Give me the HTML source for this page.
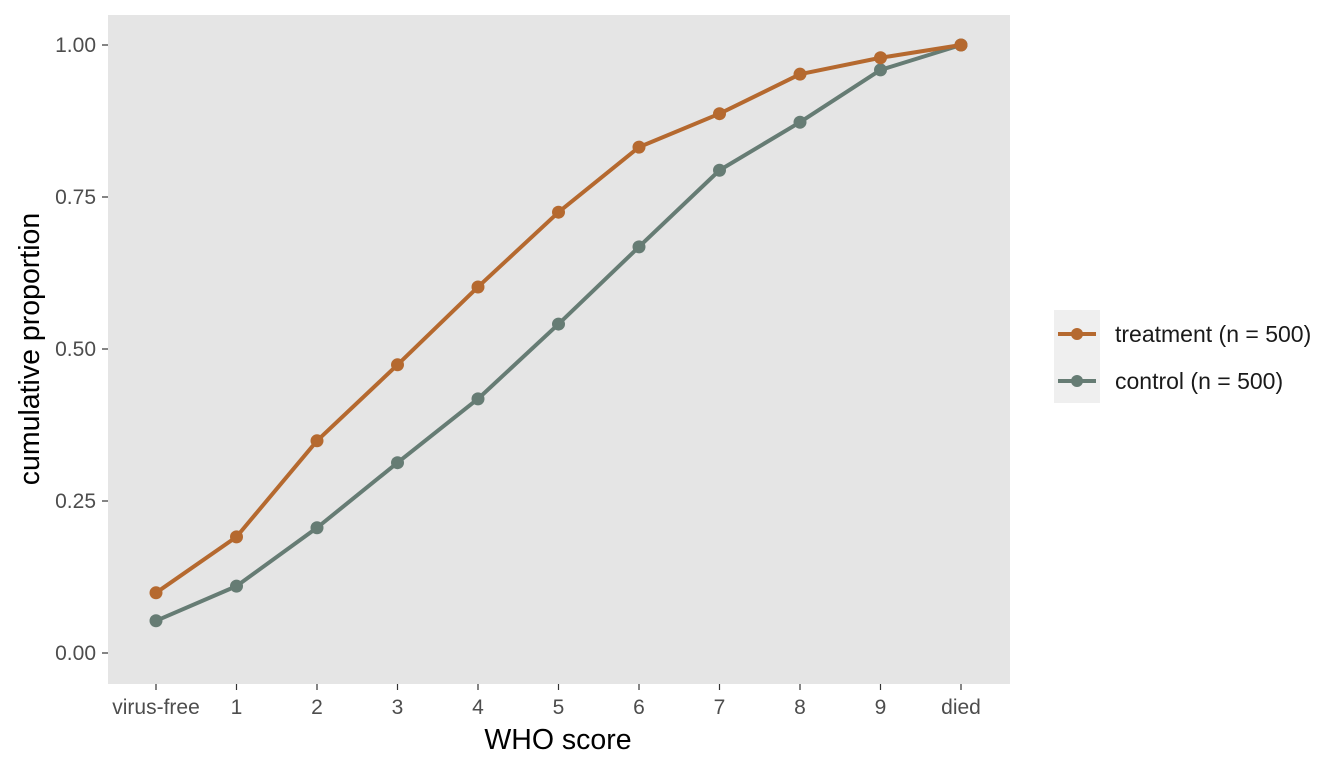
<!DOCTYPE html>
<html><head><meta charset="utf-8"><style>
body{margin:0;background:#fff;font-family:"Liberation Sans",Arial,sans-serif;}
svg text{font-family:"Liberation Sans",Arial,sans-serif;}
</style></head><body>
<svg id="chart" width="1344" height="768">
<rect x="108" y="15" width="902" height="669" fill="#e5e5e5"/>
<g id="axes"></g>
<g id="series"></g>
<text x="558" y="749" font-size="28.5" text-anchor="middle" fill="#000">WHO score</text>
<text transform="translate(39,349) rotate(-90)" font-size="28.5" text-anchor="middle" fill="#000">cumulative proportion</text>
<g>
<rect x="1054" y="310" width="46" height="93" fill="#efefef"/>
<g>
<line x1="1058" y1="334" x2="1096" y2="334" stroke="#b5692f" stroke-width="4"/>
<circle cx="1077" cy="334" r="6" fill="#b5692f"/>
<text x="1115" y="342" font-size="23" fill="#1a1a1a">treatment (n = 500)</text></g>
<g>
<line x1="1058" y1="381" x2="1096" y2="381" stroke="#667c74" stroke-width="4"/>
<circle cx="1077" cy="381" r="6" fill="#667c74"/>
<text x="1115" y="389" font-size="23" fill="#1a1a1a">control (n = 500)</text></g>
</g>
</svg>
<script>
const categories=["virus-free","1","2","3","4","5","6","7","8","9","died"];
const treatment=[0.099,0.191,0.349,0.474,0.602,0.725,0.832,0.887,0.952,0.979,1.0];
const control=[0.053,0.110,0.206,0.313,0.418,0.541,0.668,0.794,0.873,0.959,1.0];
const yTicks=[0,0.25,0.5,0.75,1.0];
const yTickLabels=["0.00","0.25","0.50","0.75","1.00"];
const NS="http://www.w3.org/2000/svg";
const xs=i=>156+i*(961-156)/(categories.length-1);
const ys=v=>653-v*608;
const axes=document.getElementById('axes'),series=document.getElementById('series');
function mk(tag,attrs,parent){const e=document.createElementNS(NS,tag);for(const k in attrs)e.setAttribute(k,attrs[k]);parent.appendChild(e);return e;}
yTicks.forEach((t,i)=>{
 const l=mk('line',{x1:102,x2:108,y1:ys(t),y2:ys(t),stroke:'#333','stroke-width':1.2},axes);
 
 
 const tx=mk('text',{x:96,y:ys(t)+7,'font-size':21,'text-anchor':'end',fill:'#4d4d4d'},axes);
 tx.textContent=yTickLabels[i];
 
 
});
categories.forEach((c,i)=>{
 const l=mk('line',{x1:xs(i),x2:xs(i),y1:684,y2:690,stroke:'#333','stroke-width':1.2},axes);
 
 
 const tx=mk('text',{x:xs(i),y:714,'font-size':21,'text-anchor':'middle',fill:'#4d4d4d'},axes);
 tx.textContent=c;
 
 
});
function draw(vals,color,name){
 const p=mk('polyline',{points:vals.map((v,i)=>xs(i)+','+ys(v)).join(' '),fill:'none',stroke:color,'stroke-width':4,'stroke-linejoin':'round'},series);
 
 
 vals.forEach((v,i)=>{
  const c=mk('circle',{cx:xs(i),cy:ys(v),r:6.5,fill:color},series);
  
  
 });
}
draw(control,'#667c74','control');
draw(treatment,'#b5692f','treatment');
</script>
</body></html>
